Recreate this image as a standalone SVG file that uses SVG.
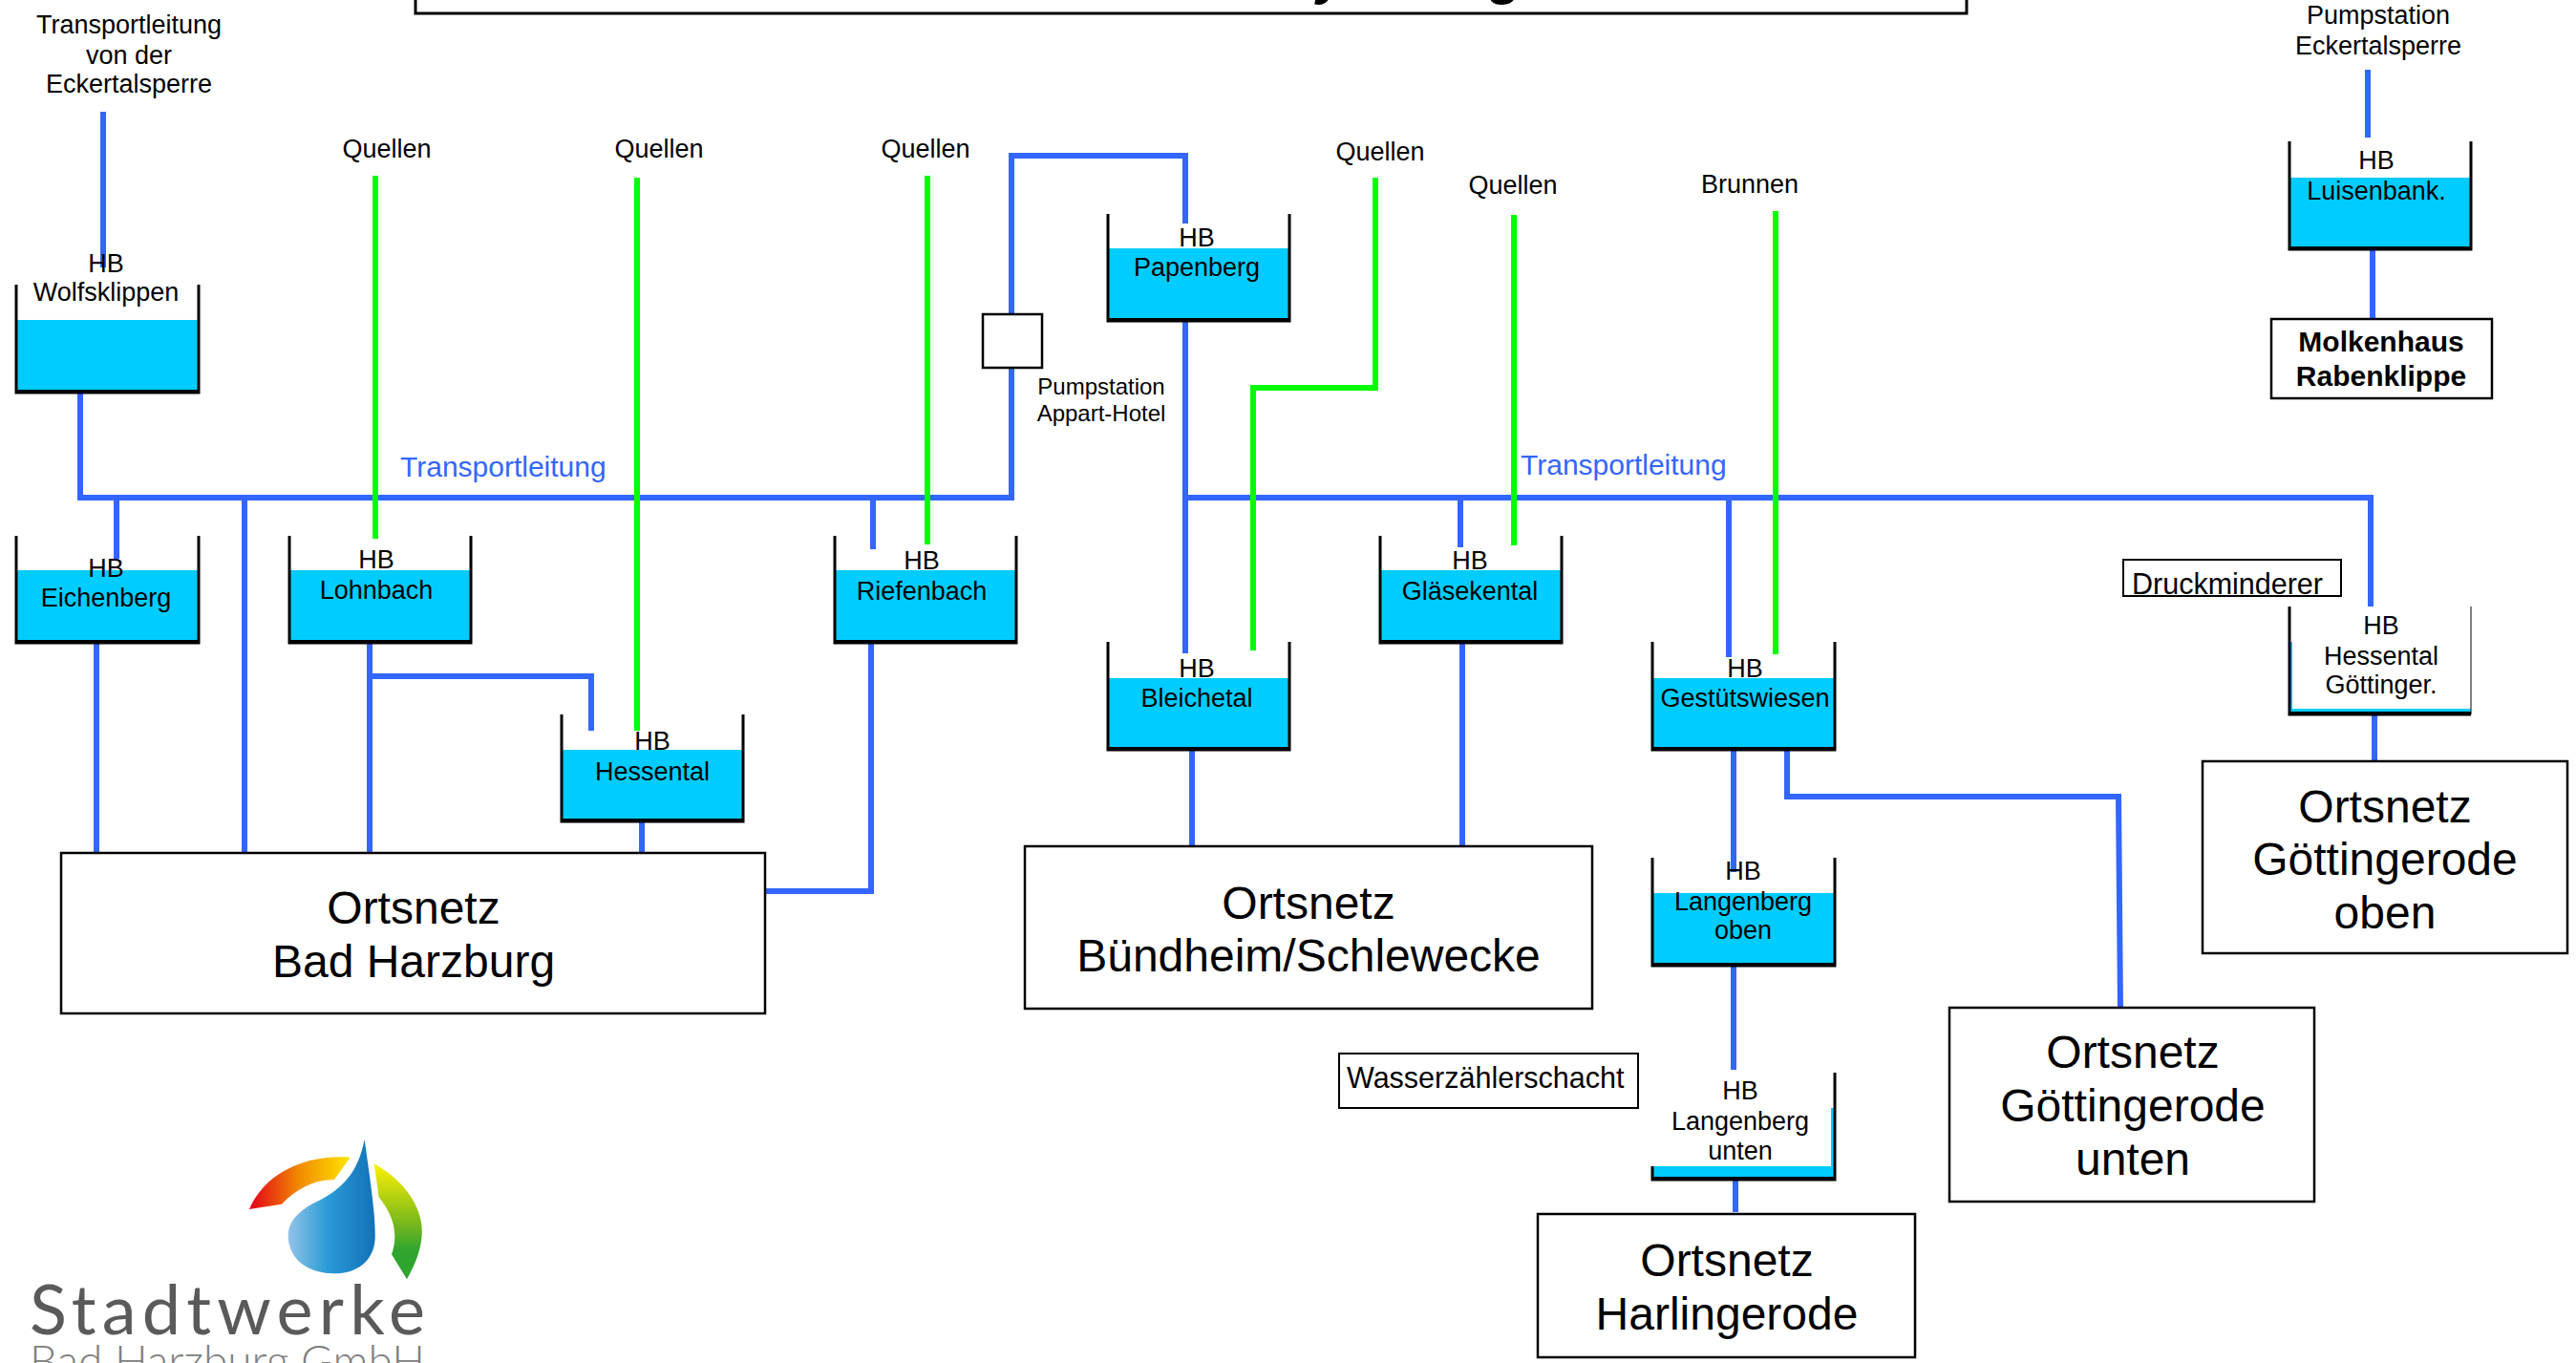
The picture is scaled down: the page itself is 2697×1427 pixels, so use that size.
<svg xmlns="http://www.w3.org/2000/svg" width="2697" height="1427" viewBox="0 0 2697 1427">
<style>
text{font-family:"Liberation Sans",Arial,sans-serif;font-size:27px;fill:#000;text-anchor:middle}
.big{font-size:48px}
.pipe{fill:none;stroke:#3366ff;stroke-width:6;stroke-linejoin:miter}
.src{fill:none;stroke:#00ff00;stroke-width:6}
.water{fill:#00ccff;stroke:none}
.tank{fill:none;stroke:#000;stroke-width:3}
.floor{fill:none;stroke:#000;stroke-width:4}
.box{fill:#fff;stroke:#000;stroke-width:2.5}
.left{text-anchor:start}
</style>
<defs>
<linearGradient id="gRed" x1="0" x2="1" y1="0" y2="0"><stop offset="0" stop-color="#e2001a"/><stop offset=".5" stop-color="#f28c00"/><stop offset="1" stop-color="#ffe600"/></linearGradient>
<linearGradient id="gGreen" x1="0" x2="0" y1="0" y2="1"><stop offset="0" stop-color="#fff000"/><stop offset=".55" stop-color="#6fb51f"/><stop offset=".75" stop-color="#2fa52f"/><stop offset="1" stop-color="#2fa52f"/></linearGradient>
<linearGradient id="gDrop" x1="0" x2="1" y1="0" y2="0"><stop offset="0" stop-color="#93c3e8"/><stop offset=".45" stop-color="#2a9bd6"/><stop offset="1" stop-color="#1272b8"/></linearGradient>
</defs>
<rect width="2697" height="1427" fill="#fff"/>

<g id="title">
<rect x="435" y="-20" width="1624" height="34" fill="#fff" stroke="#000" stroke-width="3"/>
<text x="1394" y="-7" style="font-size:56px;font-weight:bold;font-style:italic">y</text>
<text x="1577" y="-7" style="font-size:56px;font-weight:bold;font-style:italic">g</text>
</g>

<g id="connectors">
<path class="pipe" d="M108 117V280"/>
<path class="pipe" d="M84 411V521H1059V163H1241V234"/>
<path class="pipe" d="M1241 336V684"/>
<path class="pipe" d="M1241 521H2482V636"/>
<path class="pipe" d="M122 521V585"/>
<path class="pipe" d="M256 521V892"/>
<path class="pipe" d="M914 521V575"/>
<path class="pipe" d="M101 673V892"/>
<path class="pipe" d="M387 673V892"/>
<path class="pipe" d="M387 708H619V765"/>
<path class="pipe" d="M672 860V892"/>
<path class="pipe" d="M912 673V933H799"/>
<path class="pipe" d="M1248 785V885"/>
<path class="pipe" d="M1529 521V573"/>
<path class="pipe" d="M1531 673V885"/>
<path class="pipe" d="M1810 521V688"/>
<path class="pipe" d="M1815 785V913"/>
<path class="pipe" d="M1871 785V834H2218L2220 1056"/>
<path class="pipe" d="M1815 1011V1120"/>
<path class="pipe" d="M1817 1235V1269"/>
<path class="pipe" d="M2479 73V144"/>
<path class="pipe" d="M2484 261V333"/>
<path class="pipe" d="M2486 748V796"/>
<path class="src" d="M393 184V564"/>
<path class="src" d="M667 186V765"/>
<path class="src" d="M971 184V570"/>
<path class="src" d="M1312 681V406H1440V186"/>
<path class="src" d="M1585 225V571"/>
<path class="src" d="M1859 221V685"/>
</g>

<g id="labels">
<text x="135"><tspan x="135" y="35">Transportleitung</tspan><tspan x="135" y="67">von der</tspan><tspan x="135" y="97">Eckertalsperre</tspan></text>
<text x="405" y="165">Quellen</text>
<text x="690" y="165">Quellen</text>
<text x="969" y="165">Quellen</text>
<text x="1445" y="168">Quellen</text>
<text x="1584" y="203">Quellen</text>
<text x="1832" y="202">Brunnen</text>
<text x="2490"><tspan x="2490" y="25">Pumpstation</tspan><tspan x="2490" y="57">Eckertalsperre</tspan></text>
<text class="left" x="419" y="499" style="font-size:30px;fill:#3366ff">Transportleitung</text>
<text class="left" x="1592" y="497" style="font-size:30px;fill:#3366ff">Transportleitung</text>
</g>

<g id="pump-appart">
<rect class="box" x="1029" y="329" width="62" height="56"/>
<text style="font-size:24px"><tspan x="1153" y="413">Pumpstation</tspan><tspan x="1153" y="441">Appart-Hotel</tspan></text>
</g>

<g id="hb-wolfsklippen">
<rect class="water" x="17" y="335" width="191" height="76"/>
<path class="tank" d="M17 298V411H208V298"/><path class="floor" d="M17 410H208"/>
<text><tspan x="111" y="285">HB</tspan><tspan x="111" y="315">Wolfsklippen</tspan></text>
</g>
<g id="hb-eichenberg">
<rect class="water" x="17" y="597" width="191" height="76"/>
<path class="tank" d="M17 561V673H208V561"/><path class="floor" d="M17 672H208"/>
<text><tspan x="111" y="604">HB</tspan><tspan x="111" y="635">Eichenberg</tspan></text>
</g>
<g id="hb-lohnbach">
<rect class="water" x="303" y="597" width="190" height="76"/>
<path class="tank" d="M303 561V673H493V561"/><path class="floor" d="M303 672H493"/>
<text><tspan x="394" y="595">HB</tspan><tspan x="394" y="627">Lohnbach</tspan></text>
</g>
<g id="hb-riefenbach">
<rect class="water" x="874" y="597" width="190" height="76"/>
<path class="tank" d="M874 561V673H1064V561"/><path class="floor" d="M874 672H1064"/>
<text><tspan x="965" y="596">HB</tspan><tspan x="965" y="628">Riefenbach</tspan></text>
</g>
<g id="hb-hessental">
<rect class="water" x="588" y="785" width="190" height="75"/>
<path class="tank" d="M588 748V860H778V748"/><path class="floor" d="M588 859H778"/>
<text><tspan x="683" y="785">HB</tspan><tspan x="683" y="817">Hessental</tspan></text>
</g>
<g id="hb-papenberg">
<rect class="water" x="1160" y="260" width="190" height="76"/>
<path class="tank" d="M1160 224V336H1350V224"/><path class="floor" d="M1160 335H1350"/>
<text><tspan x="1253" y="258">HB</tspan><tspan x="1253" y="289">Papenberg</tspan></text>
</g>
<g id="hb-bleichetal">
<rect class="water" x="1160" y="710" width="190" height="75"/>
<path class="tank" d="M1160 672V785H1350V672"/><path class="floor" d="M1160 784H1350"/>
<text><tspan x="1253" y="709">HB</tspan><tspan x="1253" y="740">Bleichetal</tspan></text>
</g>
<g id="hb-glaesekental">
<rect class="water" x="1445" y="597" width="190" height="76"/>
<path class="tank" d="M1445 561V673H1635V561"/><path class="floor" d="M1445 672H1635"/>
<text><tspan x="1539" y="596">HB</tspan><tspan x="1539" y="628">Gläsekental</tspan></text>
</g>
<g id="hb-gestuetswiesen">
<rect class="water" x="1730" y="710" width="191" height="75"/>
<path class="tank" d="M1730 672V785H1921V672"/><path class="floor" d="M1730 784H1921"/>
<text><tspan x="1827" y="709">HB</tspan><tspan x="1827" y="740">Gestütswiesen</tspan></text>
</g>
<g id="hb-langenberg-oben">
<rect class="water" x="1730" y="935" width="191" height="76"/>
<path class="tank" d="M1730 898V1011H1921V898"/><path class="floor" d="M1730 1010H1921"/>
<text><tspan x="1825" y="921">HB</tspan><tspan x="1825" y="953">Langenberg</tspan><tspan x="1825" y="983">oben</tspan></text>
</g>
<g id="hb-langenberg-unten">
<rect class="water" x="1730" y="1160" width="191" height="75"/>
<rect x="1724" y="1123" width="193" height="98" fill="#fff"/>
<path class="tank" d="M1730 1221V1235H1921V1123"/><path class="floor" d="M1730 1234H1921"/>
<text><tspan x="1822" y="1151">HB</tspan><tspan x="1822" y="1183">Langenberg</tspan><tspan x="1822" y="1214">unten</tspan></text>
</g>
<g id="hb-luisenbank">
<rect class="water" x="2397" y="186" width="190" height="75"/>
<path class="tank" d="M2397 148V261H2587V148"/><path class="floor" d="M2397 260H2587"/>
<text><tspan x="2488" y="177">HB</tspan><tspan x="2488" y="209">Luisenbank.</tspan></text>
</g>
<g id="hb-hessental-goettinger">
<rect class="water" x="2397" y="672" width="190" height="76"/>
<rect x="2400" y="635" width="187" height="107" fill="#fff"/>
<path d="M2397 635V748H2587" class="tank"/><path d="M2587 635V748" fill="none" stroke="#555" stroke-width="1.5"/><path class="floor" d="M2397 747H2587"/>
<text><tspan x="2493" y="664">HB</tspan><tspan x="2493" y="696">Hessental</tspan><tspan x="2493" y="726">Göttinger.</tspan></text>
</g>

<g id="ortsnetz-bad-harzburg">
<rect class="box" x="64" y="893" width="737" height="168"/>
<text class="big"><tspan x="433" y="967">Ortsnetz</tspan><tspan x="433" y="1023">Bad Harzburg</tspan></text>
</g>
<g id="ortsnetz-buendheim">
<rect class="box" x="1073" y="886" width="594" height="170"/>
<text class="big"><tspan x="1370" y="962">Ortsnetz</tspan><tspan x="1370" y="1017">Bündheim/Schlewecke</tspan></text>
</g>
<g id="ortsnetz-goettingerode-oben">
<rect class="box" x="2306" y="797" width="382" height="201"/>
<text class="big"><tspan x="2497" y="861">Ortsnetz</tspan><tspan x="2497" y="916">Göttingerode</tspan><tspan x="2497" y="972">oben</tspan></text>
</g>
<g id="ortsnetz-goettingerode-unten">
<rect class="box" x="2041" y="1055" width="382" height="203"/>
<text class="big"><tspan x="2233" y="1118">Ortsnetz</tspan><tspan x="2233" y="1174">Göttingerode</tspan><tspan x="2233" y="1230">unten</tspan></text>
</g>
<g id="ortsnetz-harlingerode">
<rect class="box" x="1610" y="1271" width="395" height="150"/>
<text class="big"><tspan x="1808" y="1336">Ortsnetz</tspan><tspan x="1808" y="1392">Harlingerode</tspan></text>
</g>
<g id="molkenhaus">
<rect class="box" x="2378" y="334" width="231" height="83"/>
<text style="font-size:30px;font-weight:bold"><tspan x="2493" y="368">Molkenhaus</tspan><tspan x="2493" y="404">Rabenklippe</tspan></text>
</g>
<g id="druckminderer">
<rect x="2223" y="586" width="228" height="38" fill="#fff" stroke="#000" stroke-width="2"/>
<text class="left" x="2232" y="622" style="font-size:30.5px">Druckminderer</text>
</g>
<g id="wasserzaehlerschacht">
<rect x="1402" y="1103" width="313" height="57" fill="#fff" stroke="#000" stroke-width="2"/>
<text class="left" x="1410" y="1139" style="font-size:30.5px">Wasserzählerschacht</text>
</g>

<g id="logo">
<g transform="translate(0 1170) scale(.33333)">
<path fill="url(#gRed)" d="M783 288C830 180 950 115 1100 125L1050 195C985 195 930 225 885 272Z"/>
<path fill="url(#gGreen)" d="M1175 145C1290 210 1330 300 1325 370C1322 420 1300 470 1278 508L1230 430C1255 360 1230 300 1190 250Z"/>
<path fill="url(#gDrop)" d="M1145 68C1160 180 1180 300 1178 380C1175 450 1120 492 1045 490C960 488 905 440 905 370C905 320 950 285 1000 262C1080 220 1125 170 1145 68Z"/>
</g>
<text x="31" y="1397" textLength="414" lengthAdjust="spacing" style="font-family:Lato,'Liberation Sans',sans-serif;font-weight:400;font-size:72px;fill:#5a5a5a;text-anchor:start">Stadtwerke</text>
<text x="31" y="1441" textLength="414" lengthAdjust="spacing" style="font-family:Lato,'Liberation Sans',sans-serif;font-weight:300;font-size:46px;fill:#808080;text-anchor:start">Bad Harzburg GmbH</text>
</g>
</svg>
